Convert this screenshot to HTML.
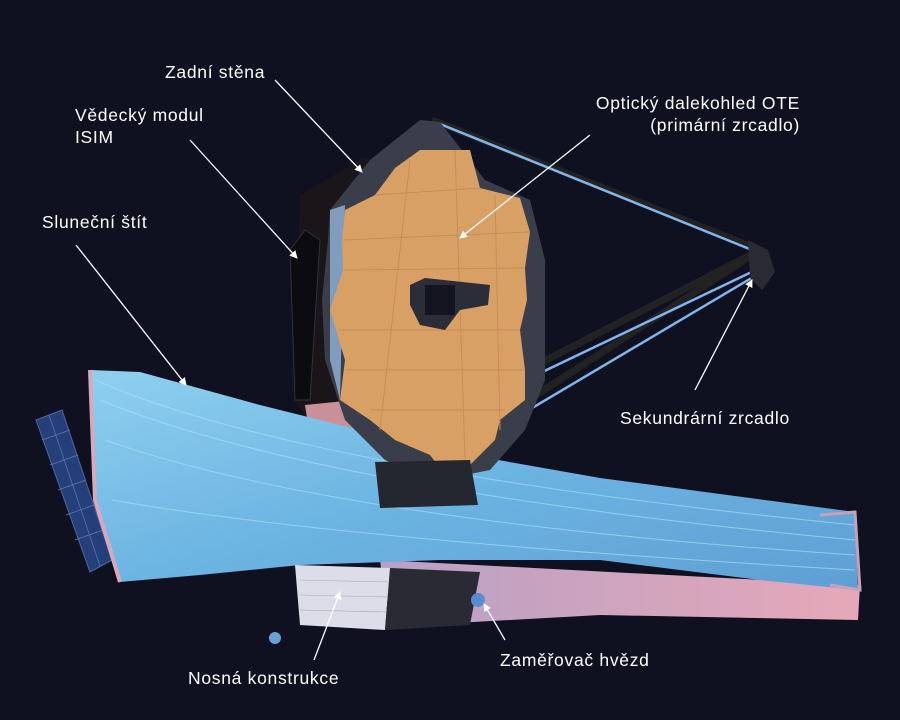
<!DOCTYPE html>
<html><head><meta charset="utf-8"><style>
html,body{margin:0;padding:0;background:#0f1121;}
svg{display:block}
text{font-family:"Liberation Sans",sans-serif;font-size:17.5px;letter-spacing:0.7px;fill:#fff}
</style></head><body>
<svg width="900" height="720" viewBox="0 0 900 720">
<defs>
<marker id="a" markerWidth="8" markerHeight="8" refX="7" refY="4" orient="auto" markerUnits="userSpaceOnUse"><path d="M0,0 L8,4 L0,8 Z" fill="#fff"/></marker>
<linearGradient id="sh" x1="0" y1="0" x2="1" y2="1"><stop offset="0" stop-color="#8fd0f0"/><stop offset="0.5" stop-color="#6cb4e2"/><stop offset="1" stop-color="#5e9fd4"/></linearGradient>
<linearGradient id="pk" x1="0" y1="0" x2="1" y2="0"><stop offset="0" stop-color="#b8a0c4"/><stop offset="1" stop-color="#e6a8b8"/></linearGradient>
</defs>
<rect width="900" height="720" fill="#0f1121"/>
<polygon points="36,420 62,410 112,560 90,572" fill="#243f7a" stroke="#4a6aa0"/>
<g stroke="#5b7cb5" stroke-width="0.7"><line x1="42" y1="440" x2="70" y2="430"/><line x1="50" y1="465" x2="78" y2="455"/><line x1="58" y1="490" x2="86" y2="480"/><line x1="66" y1="515" x2="94" y2="505"/><line x1="75" y1="540" x2="103" y2="530"/><line x1="49" y1="415" x2="100" y2="566"/></g>
<polygon points="380,560 860,585 858,620 600,615 420,625 385,600" fill="url(#pk)"/>
<polygon points="300,195 360,160 420,150 400,470 330,460 295,400" fill="#1a1518"/>
<polygon points="290,250 305,230 320,240 310,400 295,400" fill="#0b0b10" stroke="#333"/>
<polygon points="305,405 355,400 365,460 315,470" fill="#c9909a"/>
<polygon points="90,370 140,372 260,405 400,440 470,455 600,478 855,512 858,590 760,580 600,560 440,560 300,565 200,575 120,582 95,500" fill="url(#sh)"/>
<g stroke="#a7ddf5" stroke-width="1" opacity="0.7" fill="none">
<path d="M95,380 Q300,470 855,525"/><path d="M100,400 Q320,490 855,540"/><path d="M105,440 Q330,520 855,555"/><path d="M112,500 Q340,540 855,570"/>
</g>
<polyline points="90,370 95,500 120,582" fill="none" stroke="#d8a8bb" stroke-width="4"/>
<polyline points="820,515 855,512 860,590 830,585" fill="none" stroke="#c8a0b8" stroke-width="3"/>
<polygon points="295,565 390,568 385,630 300,625" fill="#dcdde8"/>
<g stroke="#9aa" stroke-width="0.6"><line x1="300" y1="580" x2="388" y2="582"/><line x1="300" y1="595" x2="387" y2="597"/><line x1="300" y1="610" x2="386" y2="612"/></g>
<polygon points="390,568 480,572 470,625 385,630" fill="#2a2a35"/>
<circle cx="275" cy="638" r="6" fill="#6aa0d8"/>
<circle cx="478" cy="600" r="7" fill="#5a8ad0"/>
<g stroke="#222" stroke-width="7" fill="none"><line x1="432" y1="120" x2="760" y2="250"/><line x1="760" y1="250" x2="395" y2="438"/><line x1="760" y1="250" x2="490" y2="425"/></g>
<g stroke="#7fb6ee" stroke-width="2.5" fill="none"><line x1="440" y1="124" x2="752" y2="250"/><line x1="760" y1="268" x2="400" y2="440"/><line x1="765" y1="270" x2="495" y2="430"/></g>
<polygon points="748,240 768,250 775,272 762,290 750,278" fill="#2b2b35"/>
<polygon points="420,120 440,122 485,180 530,200 545,260 545,380 525,430 490,470 430,482 385,460 345,420 325,360 322,300 328,240 330,210 370,160" fill="#3a3e4a"/>
<polygon points="330,210 345,205 340,400 330,360" fill="#9ec4f0" opacity="0.7"/>
<polygon points="395,168 420,150 470,150 480,188 520,198 530,232 525,268 527,300 520,330 525,370 525,400 500,420 495,440 470,465 440,468 430,455 395,440 370,420 340,400 345,360 330,310 343,270 342,240 345,210 375,195" fill="#d8a065"/>
<g stroke="#c48e55" stroke-width="1" fill="none">
<line x1="375" y1="195" x2="480" y2="188"/><line x1="343" y1="240" x2="530" y2="232"/><line x1="343" y1="270" x2="525" y2="268"/><line x1="340" y1="330" x2="520" y2="330"/><line x1="345" y1="370" x2="525" y2="370"/><line x1="370" y1="410" x2="505" y2="410"/>
<line x1="410" y1="160" x2="380" y2="430"/><line x1="455" y1="150" x2="465" y2="460"/><line x1="495" y1="195" x2="500" y2="430"/>
</g>
<polygon points="410,285 425,278 490,285 488,305 460,310 445,330 420,325 410,305" fill="#2b2d38"/>
<rect x="425" y="285" width="30" height="30" fill="#141520"/>
<polygon points="375,462 470,460 478,505 380,508" fill="#252730"/>
<g stroke="#fff" stroke-width="1.3" fill="none" marker-end="url(#a)">
<line x1="275" y1="80" x2="362" y2="172"/>
<line x1="190" y1="140" x2="297" y2="258"/>
<line x1="76" y1="245" x2="186" y2="385"/>
<line x1="590" y1="135" x2="460" y2="238"/>
<line x1="695" y1="390" x2="752" y2="280"/>
<line x1="314" y1="660" x2="340" y2="592"/>
<line x1="505" y1="640" x2="484" y2="604"/>
</g>
<text x="165" y="78">Zadní stěna</text>
<text x="75" y="121">Vědecký modul</text>
<text x="75" y="143">ISIM</text>
<text x="42" y="228">Sluneční štít</text>
<text x="800" y="109" text-anchor="end">Optický dalekohled OTE</text>
<text x="800" y="131" text-anchor="end">(primární zrcadlo)</text>
<text x="620" y="424">Sekundrární zrcadlo</text>
<text x="188" y="684">Nosná konstrukce</text>
<text x="500" y="666">Zaměřovač hvězd</text>
</svg>
</body></html>
